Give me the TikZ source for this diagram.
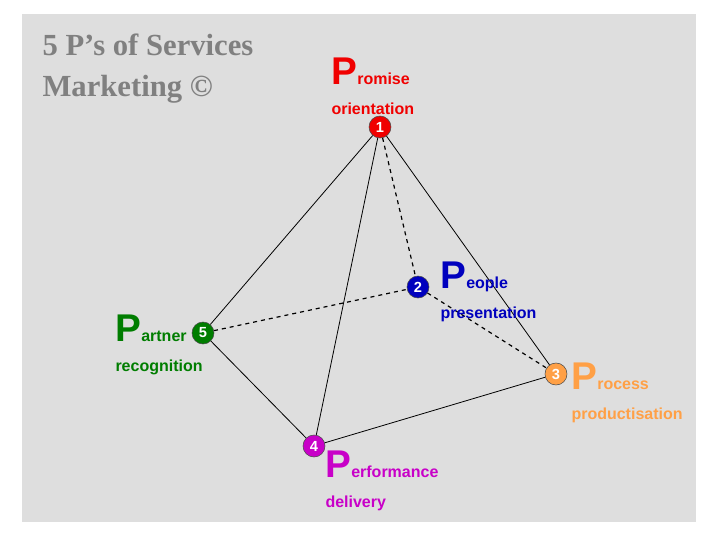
\documentclass[tikz,border=0pt]{standalone}
\usepackage{fontspec}
\setmainfont{Liberation Sans}
\newfontfamily\titlefont{Liberation Serif}
\definecolor{bgGray}{RGB}{222,222,222}
\definecolor{titleGray}{RGB}{128,128,128}
\definecolor{pRed}{RGB}{240,0,0}
\definecolor{pBlue}{RGB}{0,0,190}
\definecolor{pOrange}{RGB}{255,160,70}
\definecolor{pMagenta}{RGB}{200,0,200}
\definecolor{pGreen}{RGB}{0,125,0}
\tikzset{every picture/.style={line width=0.75pt}}
\tikzset{
  corner/.style={circle,fill=#1,draw=black!70,line width=0.4pt,minimum size=16.5pt,inner sep=0pt,
    text=white,font=\bfseries\fontsize{11}{11}\selectfont},
  plabel/.style={anchor=north west,inner sep=0pt,align=left,text=#1,font=\bfseries\fontsize{12}{23}\selectfont},
  edge/.style={line width=0.6pt},
  hidden/.style={line width=0.9pt,dashed}
}
\newcommand{\bigP}{{\fontsize{29}{29}\selectfont P}}

\begin{document}
\begin{tikzpicture}[x=0.75pt,y=0.75pt,yscale=-1,xscale=1]
\useasboundingbox (0,0) rectangle (720,540);
% Background
\fill [bgGray] (22,14) rectangle (696,522);

% Title
\node [anchor=north west,inner sep=0pt,align=left,text=titleGray,font=\titlefont\bfseries\fontsize{23}{31}\selectfont] (title) at (42,33) {5 P’s of Services\\Marketing ©};

% Corners
\node [corner=pRed] (n1) at (380,127) {1};
\node [corner=pBlue] (n2) at (418,287) {2};
\node [corner=pOrange] (n3) at (556,374) {3};
\node [corner=pMagenta] (n4) at (314,446) {4};
\node [corner=pGreen] (n5) at (203,333) {5};

% Edges
\draw [edge] (n1) -- (n5);
\draw [edge] (n1) -- (n4);
\draw [edge] (n1) -- (n3);
\draw [edge] (n5) -- (n4);
\draw [edge] (n4) -- (n3);
\draw [hidden] (n1) -- (n2);
\draw [hidden] (n5) -- (n2);
\draw [hidden] (n2) -- (n3);

% Labels
\node [plabel=pRed] (l1) at (331,57) {\bigP romise\\orientation};
\node [plabel=pBlue] (l2) at (440,261) {\bigP eople\\presentation};
\node [plabel=pOrange] (l3) at (571,362) {\bigP rocess\\productisation};
\node [plabel=pMagenta] (l4) at (325,450) {\bigP erformance\\delivery};
\node [plabel=pGreen] (l5) at (115,314) {\bigP artner\\recognition};

\end{tikzpicture}
\end{document}
